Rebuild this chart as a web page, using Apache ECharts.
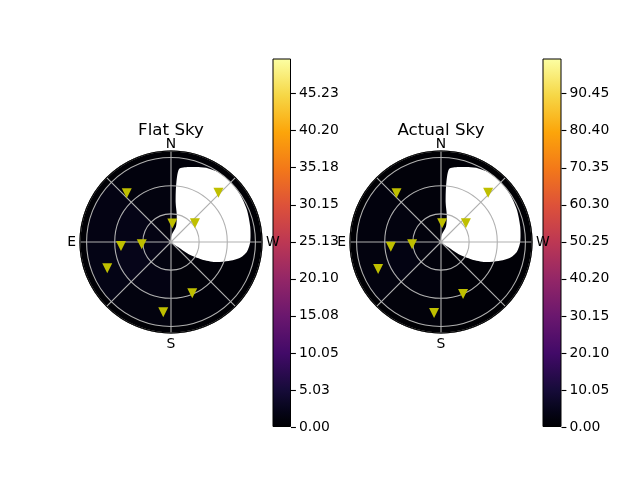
<!DOCTYPE html>
<html><head><meta charset="utf-8">
<script src="https://cdn.jsdelivr.net/npm/echarts@6/dist/echarts.min.js"></script>
<style>html,body{margin:0;padding:0;background:#fff}#c{width:640px;height:480px}</style>
</head><body><div id="c"></div>
<script>
// ---------------- data ----------------
const panelTitles = ['Flat Sky', 'Actual Sky'];
const cardinalAngles = [0, 90, 180, 270];
const cardinalLabels = ['N', 'E', 'S', 'W'];
const radialGrid = [30, 60, 90];
const zenithMax = 97;

// heat-map cells: zenith ring edges x azimuth sector edges
const zenithEdges = [0, 30, 60, 90, 97];
const azimuthEdges = [0, 45, 90, 135, 180, 225, 270, 315, 360];
// values per ring (rows) and sector (cols)
const flatSkyValues = [
  [1.2, 1.6, 1.9, 1.4, 0.8, 0.6, 0.6, 0.9],
  [1.3, 1.9, 2.2, 1.6, 0.8, 0.6, 0.6, 0.9],
  [1.1, 1.6, 1.8, 1.3, 0.7, 0.5, 0.5, 0.8],
  [0.1, 0.1, 0.1, 0.1, 0.1, 0.1, 0.1, 0.1]
];
const actualSkyValues = [
  [1.7, 2.2, 2.6, 1.9, 1.1, 0.8, 0.8, 1.2],
  [1.8, 2.6, 3.0, 2.2, 1.1, 0.8, 0.8, 1.2],
  [1.5, 2.2, 2.5, 1.8, 1.0, 0.7, 0.7, 1.1],
  [0.1, 0.1, 0.1, 0.1, 0.1, 0.1, 0.1, 0.1]
];
// region with no data (shown white): boundary azimuth / zenith
const maskAzimuth = [353.7, 346.9, 339.9, 333.0, 325.7, 315.6, 304.3, 293.0, 281.0, 270.2, 262.7, 257.2, 251.7, 245.6, 240.5, 235.3, 234.0, 0.0, 354.6, 342.0, 348.0, 353.1, 354.8];
const maskZenith  = [78.2, 82.0, 85.0, 88.0, 89.8, 90.2, 89.3, 87.9, 86.0, 84.5, 81.6, 75.6, 64.6, 51.7, 37.7, 22.5, 9.7, 0.0, 7.5, 17.3, 29.5, 41.6, 59.4];

// target markers
const flatMarkerAzimuth = [42.3, 356.0, 308.0, 316.0, 94.5, 94.6, 112.4, 202.5, 173.7];
const flatMarkerZenith  = [70.1, 19.9, 32.4, 72.8, 31.3, 53.5, 73.5, 59.2, 75.4];
const actualMarkerAzimuth = [42.4, 356.6, 307.0, 316.3, 94.5, 95.3, 113.2, 203.0, 174.4];
const actualMarkerZenith  = [70.3, 19.9, 33.2, 72.7, 30.9, 53.7, 72.9, 60.2, 76.0];

// colour bars
const flatRange = [0, 50];
const actualRange = [0, 100];
const flatTicks = [0.00, 5.03, 10.05, 15.08, 20.10, 25.13, 30.15, 35.18, 40.20, 45.23];
const actualTicks = [0.00, 10.05, 20.10, 30.15, 40.20, 50.25, 60.30, 70.35, 80.40, 90.45];

// ---------------- style ----------------
const FONT = 'DejaVu Sans';
const infernoStops = [
  [0.00, '#000004'], [0.02, '#02020c'], [0.04, '#050417'], [0.06, '#0a0722'],
  [0.10, '#160b39'], [0.20, '#420a68'], [0.30, '#6a176e'], [0.40, '#932667'],
  [0.50, '#bc3754'], [0.60, '#dd513a'], [0.70, '#f37819'], [0.80, '#fca50a'],
  [0.90, '#f6d746'], [1.00, '#fcffa4']
];
function hex2rgb(h){return [parseInt(h.slice(1,3),16),parseInt(h.slice(3,5),16),parseInt(h.slice(5,7),16)];}
function cmap(t){
  t = Math.max(0, Math.min(1, t));
  let i = 0;
  while (i < infernoStops.length - 2 && t > infernoStops[i+1][0]) i++;
  const s0 = infernoStops[i], s1 = infernoStops[i+1];
  const f = (t - s0[0]) / (s1[0] - s0[0]);
  const a = hex2rgb(s0[1]), b = hex2rgb(s1[1]);
  return 'rgb(' + a.map((c,k)=>Math.round(c + (b[k]-c)*f)).join(',') + ')';
}

function cellData(values){
  const out = [];
  for (let i = 0; i < zenithEdges.length - 1; i++)
    for (let j = 0; j < azimuthEdges.length - 1; j++)
      out.push([zenithEdges[i], zenithEdges[i+1], azimuthEdges[j], azimuthEdges[j+1], values[i][j]]);
  return out;
}

function heatSeries(idx, values, range){
  return {
    type: 'custom', coordinateSystem: 'polar', polarIndex: idx, z: 1, silent: true,
    dimensions: ['r0','r1','a0','a1','v'],
    encode: {radius: 0, angle: 2},
    data: cellData(values),
    renderItem: function(params, api){
      const r0 = api.value(0), r1 = api.value(1), a0 = api.value(2), a1 = api.value(3), v = api.value(4);
      const pts = [], n = 30;
      for (let k = 0; k <= n; k++) pts.push(api.coord([r1, a0 + (a1 - a0) * k / n]));
      for (let k = n; k >= 0; k--) pts.push(api.coord([r0, a0 + (a1 - a0) * k / n]));
      const col = cmap((v - range[0]) / (range[1] - range[0]));
      return {type: 'polygon', shape: {points: pts}, style: {fill: col, stroke: col, lineWidth: 1}};
    }
  };
}

function maskSeries(idx){
  return {
    type: 'custom', coordinateSystem: 'polar', polarIndex: idx, z: 2, silent: true,
    data: maskZenith.map((z, i) => [z, maskAzimuth[i]]),
    renderItem: function(params, api){
      if (params.dataIndex !== 0) return null;
      const pts = maskZenith.map((z, i) => api.coord([z, maskAzimuth[i]]));
      return {type: 'polygon', shape: {points: pts, smooth: 0.25}, style: {fill: '#ffffff', stroke: null}};
    }
  };
}

function markerSeries(idx, az, zen){
  return {
    type: 'scatter', coordinateSystem: 'polar', polarIndex: idx, z: 10, silent: true,
    symbol: 'triangle', symbolRotate: 180, symbolSize: [10, 10],
    itemStyle: {color: '#bfbf00', opacity: 1},
    data: zen.map((z, i) => [z, az[i]])
  };
}

function colorbarSeries(idx, range){
  return {
    type: 'bar', xAxisIndex: idx, yAxisIndex: idx, barWidth: '100%', silent: true,
    data: [range[1]],
    itemStyle: {
      color: new echarts.graphic.LinearGradient(0, 1, 0, 0,
        infernoStops.map(s => ({offset: s[0], color: s[1]}))),
      borderColor: '#000', borderWidth: 1
    }
  };
}

const centers = [[171, 242], [441, 242]];
const polarRadius = 91;

const option = {
  animation: false,
  backgroundColor: '#ffffff',
  textStyle: {fontFamily: FONT},
  title: panelTitles.map((t, i) => ({
    text: t, left: centers[i][0], top: 122, textAlign: 'center', padding: 0,
    textStyle: {fontFamily: FONT, fontSize: 16.7, fontWeight: 'normal', color: '#000'}
  })),
  polar: centers.map(c => ({center: c, radius: polarRadius})),
  angleAxis: centers.map((c, i) => ({
    polarIndex: i, type: 'value', min: 0, max: 360, interval: 45,
    startAngle: 90, clockwise: false, z: 6,
    axisLine: {show: true, lineStyle: {color: '#000', width: 1.1}},
    axisTick: {show: false},
    splitLine: {show: true, lineStyle: {color: '#b0b0b0', width: 1.1}},
    axisLabel: {
      show: true, margin: 4, color: '#000', fontSize: 13.9, fontFamily: FONT,
      formatter: v => {
        const k = cardinalAngles.indexOf(v % 360);
        if (k < 0) return '';
        return k === 0 ? '{n|' + cardinalLabels[k] + '}' : cardinalLabels[k];
      },
      rich: {n: {fontSize: 13.9, fontFamily: FONT, color: '#000', lineHeight: 5}}
    }
  })),
  radiusAxis: centers.map((c, i) => ({
    polarIndex: i, type: 'value', min: 0, max: zenithMax, interval: radialGrid[0], z: 5,
    axisLine: {show: false}, axisTick: {show: false}, axisLabel: {show: false},
    splitLine: {show: true, lineStyle: {color: '#b0b0b0', width: 1.1}}
  })),
  grid: [
    {left: 272.5, top: 58.5, width: 18.5, height: 368.5},
    {left: 542.5, top: 58.5, width: 19, height: 368.5}
  ],
  xAxis: [0, 1].map(i => ({gridIndex: i, type: 'category', data: [''], show: false})),
  yAxis: [[flatRange, flatTicks], [actualRange, actualTicks]].map((p, i) => ({
    gridIndex: i, type: 'value', position: 'right', min: p[0][0], max: p[0][1],
    interval: p[1][1],
    axisLine: {show: false}, splitLine: {show: false},
    axisTick: {show: true, length: 4.9, lineStyle: {color: '#000', width: 1.1}, customValues: p[1]},
    axisLabel: {show: true, margin: 8, color: '#000', fontSize: 13.9, fontFamily: FONT,
      customValues: p[1], formatter: v => v.toFixed(2)}
  })),
  series: [
    heatSeries(0, flatSkyValues, flatRange),
    heatSeries(1, actualSkyValues, actualRange),
    maskSeries(0), maskSeries(1),
    markerSeries(0, flatMarkerAzimuth, flatMarkerZenith),
    markerSeries(1, actualMarkerAzimuth, actualMarkerZenith),
    colorbarSeries(0, flatRange), colorbarSeries(1, actualRange)
  ]
};
echarts.init(document.getElementById('c'), null, {renderer: 'canvas'}).setOption(option);
</script></body></html>
